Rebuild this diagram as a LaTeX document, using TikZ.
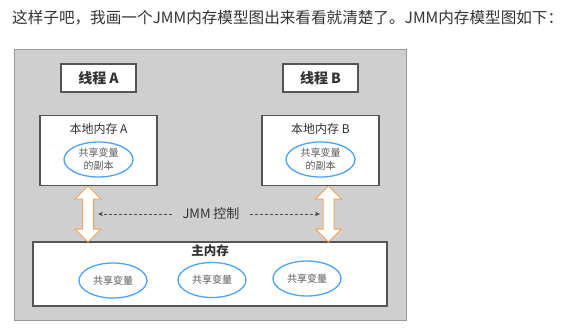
\documentclass[tikz,border=0pt]{standalone}
\usepackage{fontspec}
\setmainfont{Noto Sans CJK SC}
\usepackage{tikz}
\usetikzlibrary{arrows.meta}
\usetikzlibrary{shapes,arrows}
\usetikzlibrary{positioning}

\definecolor{panelgray}{HTML}{CFCFCF}
\definecolor{boxline}{HTML}{555555}
\definecolor{varblue}{HTML}{4DA3F7}
\definecolor{syncorange}{HTML}{F5A25A}
\definecolor{inktext}{HTML}{333333}

\begin{document}
\begin{tikzpicture}[x=1pt,y=-1pt,text=inktext]
 	\def \rowthread{78}
 	\def \rowlocal{150.5}
 	\def \rowsync{214}
 	\def \rowmain{274}
 	\tikzstyle{t-node}=[draw=boxline,line width=1.3pt,fill=white,inner sep=0pt,minimum width=75pt,minimum height=28pt,font=\fontsize{14pt}{16pt}\selectfont\bfseries]
 	\tikzstyle{l-node}=[draw=boxline,line width=1.3pt,fill=white,inner sep=0pt,minimum width=117pt,minimum height=70pt]
 	\tikzstyle{v-node}=[ellipse,draw=varblue,line width=1.3pt,fill=white,inner sep=0pt,minimum width=69pt,minimum height=35pt,align=center,text=black!65,font=\fontsize{10pt}{13pt}\selectfont]
 	\tikzstyle{title} = [inner sep=0pt,font=\fontsize{12pt}{14pt}\selectfont]
 	\tikzstyle{sync} = [double arrow,draw=syncorange,line width=1pt,fill=white,rotate=90,inner xsep=0pt,inner ysep=5pt,minimum height=56pt,minimum width=25pt,double arrow head extend=7.5pt]
 	\tikzstyle{ctl} = [dash pattern=on 3pt off 2pt,draw=black!70,line width=0.8pt,-{Stealth[length=5pt,width=4.5pt]}]
 	\useasboundingbox (0,0) rectangle (570,330);

 	% caption line
 	\node[anchor=west,inner sep=0pt,font=\fontsize{15.6pt}{18pt}\selectfont] (caption) at (12,18) {这样子吧，我画一个JMM内存模型图出来看看就清楚了。JMM内存模型图如下：};

 	% background
 	\node[draw=black!40,line width=0.8pt,fill=panelgray,minimum width=392pt,minimum height=271pt,inner sep=0pt] (panel) at (210,184.75) {};

 	% threads
 	\node[t-node] 	(tA)	at (98.5,\rowthread)	{线程 A};
 	\node[t-node] 	(tB)	at (320.5,\rowthread)	{线程 B};

 	% local memory
 	\node[l-node] 	(lA)	at (98.5,\rowlocal)	{};
 	\node[l-node] 	(lB)	at (320.5,\rowlocal)	{};
 	\node[title] 	(lA-label)	at (98.5,129)	{本地内存 A};
 	\node[title] 	(lB-label)	at (320.5,129)	{本地内存 B};
 	\node[v-node] 	(cA)	at (98.5,159.5)	{共享变量\\的副本};
 	\node[v-node] 	(cB)	at (320.5,159.5)	{共享变量\\的副本};

 	% main memory
 	\node[l-node,minimum width=354pt,minimum height=64pt] 	(main)	at (210,\rowmain)	{};
 	\node[title,font=\fontsize{12.5pt}{14pt}\selectfont\bfseries] 	(main-label)	at (210,251)	{主内存};
 	\node[v-node,minimum width=68pt] 	(v0)	at (113,280.5)	{共享变量};
 	\node[v-node,minimum width=68pt] 	(v1)	at (212,280)	{共享变量};
 	\node[v-node,minimum width=68pt] 	(v2)	at (307,278.5)	{共享变量};

 	% JMM control between local and main memory
 	\node[sync] 	(sA)	at (88,\rowsync)	{};
 	\node[sync] 	(sB)	at (328.5,\rowsync)	{};
 	\node[inner xsep=10pt,inner ysep=0pt,font=\fontsize{13pt}{15pt}\selectfont] 	(jmm)	at (211,\rowsync)	{JMM 控制};
 	\coordinate 	(tipA)	at (98,\rowsync);
 	\coordinate 	(tipB)	at (320,\rowsync);
 	\draw[ctl] (jmm.west) -- (tipA);
 	\draw[ctl] (jmm.east) -- (tipB);

 \end{tikzpicture}
\end{document}
